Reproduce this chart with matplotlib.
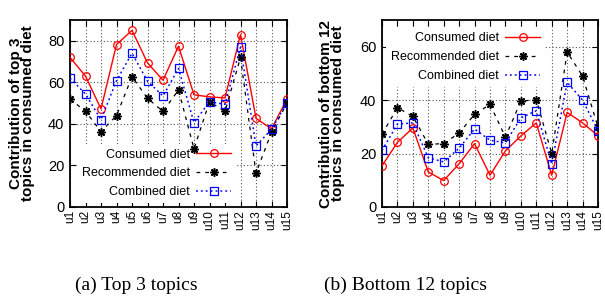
import numpy as np
import matplotlib
matplotlib.use('Agg')
import matplotlib.pyplot as plt

users = ['u1', 'u2', 'u3', 'u4', 'u5', 'u6', 'u7', 'u8', 'u9', 'u10',
         'u11', 'u12', 'u13', 'u14', 'u15']

# (a) top 3 topics
top_consumed = [72, 63, 47.2, 78.2, 85, 69.4, 61, 77.4, 54, 53, 52.5, 83, 42.7, 37.6, 52]
top_recommended = [52, 46, 36.3, 44, 62.7, 52.3, 46, 56.3, 28, 50.7, 46, 72, 16.3, 36, 50]
top_combined = [62, 54.4, 42, 60.8, 74, 60.6, 53.4, 66.7, 40.6, 50.7, 49.4, 77, 29.4, 37.4, 50.2]

# (b) bottom 12 topics
bot_consumed = [15.4, 24.2, 29.6, 13.1, 9.9, 16.2, 23.7, 11.9, 21, 26.6, 31.5, 11.9, 35.4, 31.5, 26.7]
bot_recommended = [27.2, 37.2, 33.9, 23.5, 23.7, 27.7, 34.7, 38.4, 26.2, 39.6, 40.2, 20, 58, 49, 29.9]
bot_combined = [21.2, 31, 31.5, 18.4, 16.9, 22, 29.2, 25, 24, 33.4, 36, 16.1, 46.7, 40, 28.6]

sans = ['Liberation Sans', 'DejaVu Sans']
serif = ['Liberation Serif', 'DejaVu Serif']

W, H = 605, 297
fig = plt.figure(figsize=(W / 100, H / 100), dpi=100)


def panel(left, width, cons, rec, comb, ymax, yticks, ylabel, label_x, leg_anchor, leg_loc):
    ax = fig.add_axes([left / W, 1 - 207 / H, width / W, 187 / H])
    x = np.arange(1, len(users) + 1)
    ax.plot(x, cons, color='#ff0000', lw=1.0, ls='-', marker='o', ms=5.5,
            mfc='none', mec='#ff0000', mew=0.9, label='Consumed diet', zorder=3)
    ax.plot(x, rec, color='black', lw=0.9, ls=(0, (3, 4)), marker=(8, 2, 0), ms=6,
            mew=1.1, label='Recommended diet', zorder=3)
    ax.plot(x, comb, color='#0000ff', lw=1.1, ls=(0, (1.2, 2)), marker='s', ms=5.5,
            mfc='none', mec='#0000ff', mew=0.9, label='Combined diet', zorder=3)
    ax.set_xlim(1, len(users))
    ax.set_ylim(0, ymax)
    ax.set_xticks(x)
    ax.set_xticklabels(users, rotation=90, fontsize=8.5, family=sans)
    ax.set_yticks(yticks)
    ax.set_yticklabels([str(v) for v in yticks], fontsize=10.5, family=sans)
    ax.tick_params(direction='in', length=4, width=0.8, top=True, right=True)
    ax.tick_params(axis='x', pad=2)
    ax.tick_params(axis='y', pad=4)
    ax.grid(True, color='#555555', ls=(0, (1, 2)), lw=0.8)
    ax.set_axisbelow(True)
    for s in ax.spines.values():
        s.set_linewidth(1.3)
    ax.set_ylabel(ylabel, fontsize=11, fontweight='bold', family=sans, linespacing=0.85)
    ax.yaxis.set_label_coords(label_x, 0.5)
    leg = ax.legend(loc=leg_loc, bbox_to_anchor=leg_anchor, markerfirst=False,
                    frameon=True, fancybox=False, framealpha=1, edgecolor='none',
                    facecolor='white', prop={'family': sans, 'size': 9},
                    handlelength=2.8, handletextpad=0.5, labelspacing=0.55,
                    borderaxespad=0, borderpad=0.4)
    leg.set_zorder(2.5)
    return ax


panel(70, 217, top_consumed, top_recommended, top_combined, 90, [0, 20, 40, 60, 80],
      'Contribution of top 3\ntopics in consumed diet', -0.161, (0.765, 0.02), 'lower right')
panel(382, 216, bot_consumed, bot_recommended, bot_combined, 70, [0, 20, 40, 60],
      'Contribution of bottom 12\ntopics in consumed diet', -0.171, (0.755, 0.96), 'upper right')

fig.text(136 / W, 1 - 285 / H, '(a) Top 3 topics', ha='center', va='center',
         fontsize=14, family=serif)
fig.text(405 / W, 1 - 285 / H, '(b) Bottom 12 topics', ha='center', va='center',
         fontsize=14, family=serif)

fig.savefig('out.png', dpi=100)
